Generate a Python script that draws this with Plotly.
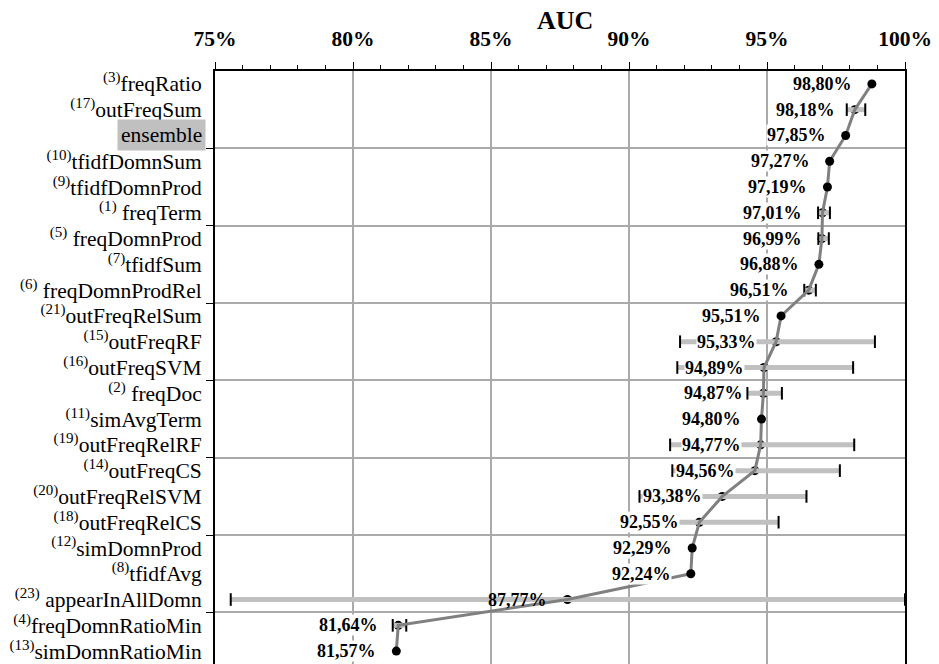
import plotly.graph_objects as go

# Feature ranking by AUC (top to bottom)
ranks = ["(3)", "(17)", "", "(10)", "(9)", "(1)", "(5)", "(7)", "(6)", "(21)", "(15)", "(16)",
         "(2)", "(11)", "(19)", "(14)", "(20)", "(18)", "(12)", "(8)", "(23)", "(4)", "(13)"]
names = ["freqRatio", "outFreqSum", "ensemble", "tfidfDomnSum", "tfidfDomnProd", " freqTerm",
         " freqDomnProd", "tfidfSum", " freqDomnProdRel", "outFreqRelSum", "outFreqRF",
         "outFreqSVM", " freqDoc", "simAvgTerm", "outFreqRelRF", "outFreqCS", "outFreqRelSVM",
         "outFreqRelCS", "simDomnProd", "tfidfAvg", " appearInAllDomn", "freqDomnRatioMin",
         "simDomnRatioMin"]
auc = [98.80, 98.18, 97.85, 97.27, 97.19, 97.01, 96.99, 96.88, 96.51, 95.51, 95.33, 94.89,
       94.87, 94.80, 94.77, 94.56, 93.38, 92.55, 92.29, 92.24, 87.77, 81.64, 81.57]
auc_low = [None, 97.89, None, None, None, 96.85, 96.86, None, 96.35, None, 91.85, 91.75,
           94.29, None, 91.49, 91.57, 90.38, 89.75, None, None, 75.57, 81.44, None]
auc_high = [None, 98.56, None, None, None, 97.28, 97.24, None, 96.77, None, 98.91, 98.12,
            95.54, None, 98.16, 97.64, 96.43, 95.42, None, None, 100.0, 81.93, None]
group_breaks = [2.5, 5.5, 8.5, 11.5, 14.5, 17.5, 20.5]
x_ticks = [75, 80, 85, 90, 95, 100]

FONT = "Liberation Serif"
rows = list(range(len(auc)))
has_err = [lo is not None for lo in auc_low]

fig = go.Figure()

# markers that sit underneath their range bars
fig.add_trace(go.Scatter(
    x=[v for v, e in zip(auc, has_err) if e], y=[r for r, e in zip(rows, has_err) if e],
    mode="markers", marker=dict(color="black", size=9), hoverinfo="skip", showlegend=False))

# min-max range bars
bx, by = [], []
for r, lo, hi in zip(rows, auc_low, auc_high):
    if lo is not None:
        bx += [lo, hi, None]
        by += [r, r, None]
fig.add_trace(go.Scatter(x=bx, y=by, mode="lines", line=dict(color="#c0c0c0", width=5),
                         hoverinfo="skip", showlegend=False))

# range bar end caps
cx, cy = [], []
for r, lo, hi in zip(rows, auc_low, auc_high):
    if lo is not None:
        cx += [lo, hi]
        cy += [r, r]
fig.add_trace(go.Scatter(x=cx, y=cy, mode="markers",
                         marker=dict(symbol="line-ns", size=9, line=dict(color="black", width=2)),
                         hoverinfo="skip", showlegend=False))

# connecting line
fig.add_trace(go.Scatter(x=auc, y=rows, mode="lines", line=dict(color="#808080", width=3),
                         hoverinfo="skip", showlegend=False))

# plain markers
fig.add_trace(go.Scatter(
    x=[v for v, e in zip(auc, has_err) if not e], y=[r for r, e in zip(rows, has_err) if not e],
    mode="markers", marker=dict(color="black", size=9), hoverinfo="skip", showlegend=False))

annotations = []
for r, v, lo, hi in zip(rows, auc, auc_low, auc_high):
    full_span = lo is not None and lo <= 76
    annotations.append(dict(
        x=v, y=r, xref="x", yref="y", xanchor="right", yanchor="middle", xshift=-19,
        text="<b>" + f"{v:.2f}".replace(".", ",") + "%</b>", showarrow=False,
        font=dict(family=FONT, size=18, color="black"),
        bgcolor=None if full_span else "white", borderpad=0))

tick_text = []
for rk, nm in zip(ranks, names):
    tick_text.append(f"<sup>{rk}</sup>{nm}" if rk else "")

# highlighted row label
for r, rk, nm in zip(rows, ranks, names):
    if not rk:
        annotations.append(dict(
            x=0, y=r, xref="paper", yref="y", xanchor="right", yanchor="middle", xshift=-9,
            text=nm, showarrow=False, font=dict(family=FONT, size=21.5, color="black"),
            bgcolor="#c0c0c0", borderpad=3))

annotations.append(dict(
    x=0.507, y=1.085, xref="paper", yref="paper", xanchor="center", yanchor="middle",
    text="<b>AUC</b>", showarrow=False, font=dict(family=FONT, size=26, color="black")))

fig.update_layout(
    width=939, height=664,
    margin=dict(l=215, r=34, t=71, b=0),
    paper_bgcolor="white", plot_bgcolor="white",
    showlegend=False,
    annotations=annotations,
    xaxis=dict(
        side="top", range=[75, 100], tickmode="array", tickvals=x_ticks,
        ticktext=[f"{t}%" for t in x_ticks],
        tickfont=dict(family=FONT, size=21.5, color="black", weight="bold"),
        ticks="outside", ticklen=7, tickwidth=1, tickcolor="black",
        ticklabelstandoff=7,
        showline=True, linecolor="black", linewidth=2,
        showgrid=True, gridcolor="#aaaaaa", gridwidth=2, zeroline=False,
        minor=dict(dtick=1, ticks="outside", ticklen=4, tickcolor="black", tickwidth=1,
                   showgrid=False),
    ),
    yaxis=dict(
        range=[len(auc) - 0.5, -0.5], tickmode="array", tickvals=rows, ticktext=tick_text,
        tickfont=dict(family=FONT, size=21.5, color="black"),
        ticks="", showgrid=False, zeroline=False, ticklabelstandoff=7,
        showline=True, linecolor="black", linewidth=2, mirror=True,
        minor=dict(tickmode="array", tickvals=group_breaks, ticks="outside", ticklen=7,
                   tickcolor="black", tickwidth=1, showgrid=True, gridcolor="#aaaaaa",
                   gridwidth=2),
    ),
)

fig.write_html("out.html")
